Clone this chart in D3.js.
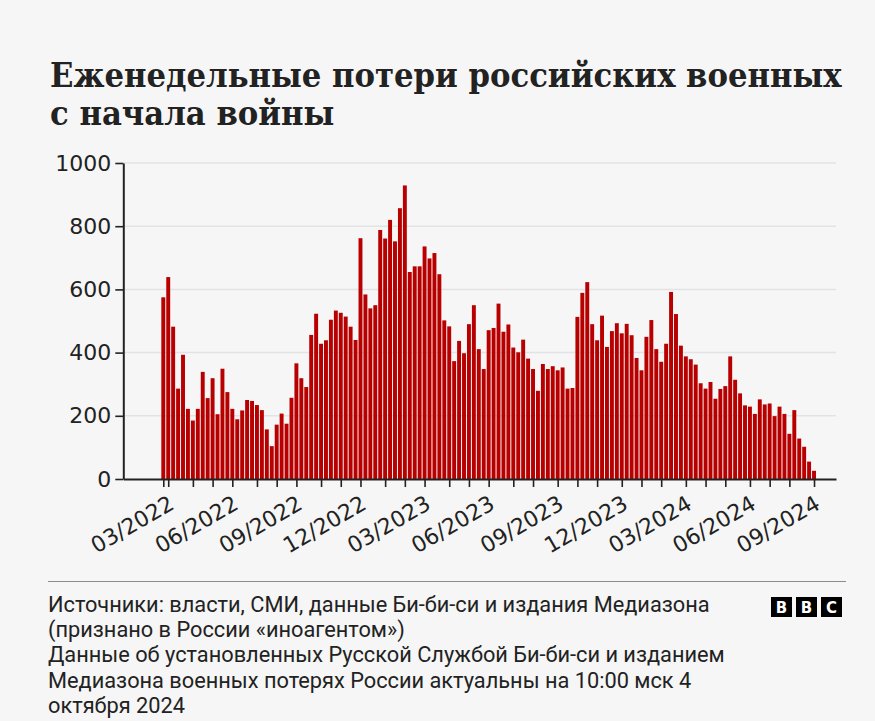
<!DOCTYPE html>
<html>
<head>
<meta charset="utf-8">
<script src="https://cdn.jsdelivr.net/npm/d3@7"></script>
<style>
  html, body { margin: 0; padding: 0; background: #f6f6f6; }
  svg { display: block; }
</style>
</head>
<body>
<svg id="chart" width="875" height="721"></svg>
<script>
// ---- data ----
const firstWeek = "2022-02-24"; // weeks start on Thursday
const weeklyLosses = [
  575, 639, 482, 286, 393, 222, 185, 222, 339, 256,
  319, 205, 349, 275, 222, 189, 217, 250, 247, 234,
  218, 157, 104, 172, 207, 175, 257, 366, 319, 291,
  456, 523, 428, 439, 504, 533, 526, 514, 482, 440,
  762, 584, 540, 550, 788, 761, 820, 752, 857, 929,
  655, 673, 673, 736, 698, 715, 648, 502, 483, 373,
  437, 398, 490, 550, 411, 348, 471, 478, 555, 466,
  489, 416, 401, 441, 381, 348, 279, 364, 348, 357,
  344, 353, 286, 288, 513, 589, 623, 490, 439, 517,
  418, 468, 493, 461, 491, 455, 383, 344, 450, 503,
  411, 371, 428, 592, 522, 422, 388, 379, 362, 303,
  286, 307, 254, 285, 294, 388, 314, 271, 233, 229,
  206, 252, 236, 239, 199, 229, 206, 143, 218, 128,
  102, 55, 26
];
const tickLabels = ["03/2022","06/2022","09/2022","12/2022","03/2023","06/2023",
                    "09/2023","12/2023","03/2024","06/2024","09/2024"];
const yTicks = [0, 200, 400, 600, 800, 1000];
const xDomain = ["2022-01-01", "2024-10-09"];
const titleLines = ["Еженедельные потери российских военных", "с начала войны"];
const sourceLines = [
  "Источники: власти, СМИ, данные Би-би-си и издания Медиазона",
  "(признано в России «иноагентом»)",
  "Данные об установленных Русской Службой Би-би-си и изданием",
  "Медиазона военных потерях России актуальны на 10:00 мск 4",
  "октября 2024"
];
const logoLetters = ["B", "B", "C"];

// ---- setup ----
const svg = d3.select("#chart");
const W = 875, H = 721;
svg.append("rect").attr("width", W).attr("height", H).attr("fill", "#f6f6f6");

const parse = d3.utcParse("%Y-%m-%d");
const start = parse(firstWeek);
const weeks = weeklyLosses.map((v, i) => ({ date: d3.utcDay.offset(start, 7 * i), value: v }));

const x = d3.scaleUtc().domain(xDomain.map(parse)).range([123.3, 836]);
const y = d3.scaleLinear().domain([0, 1000]).range([479, 163]);

const pitch = x(d3.utcDay.offset(start, 7)) - x(start);
const barW = pitch - 1;

// ---- title ----
const titleFont = "'DejaVu Serif Condensed', 'DejaVu Serif', serif";
const title = svg.append("g");
const t1 = title.append("text").text(titleLines[0])
  .attr("x", 50).attr("y", 87)
  .attr("font-family", titleFont).attr("font-stretch", "condensed")
  .attr("font-weight", "bold").attr("font-size", 34).attr("fill", "#222");
const fs = 34 * 792 / t1.node().getComputedTextLength();
t1.attr("font-size", fs);
title.append("text").text(titleLines[1])
  .attr("x", 50).attr("y", 125)
  .attr("font-family", titleFont).attr("font-stretch", "condensed")
  .attr("font-weight", "bold").attr("font-size", fs).attr("fill", "#222");

// ---- grid ----
svg.append("g").selectAll("line").data(yTicks.filter(d => d > 0)).join("line")
  .attr("x1", x.range()[0]).attr("x2", x.range()[1])
  .attr("y1", d => y(d)).attr("y2", d => y(d))
  .attr("stroke", "#e3e3e3").attr("stroke-width", 1.5);

// ---- bars ----
svg.append("g").selectAll("rect").data(weeks).join("rect")
  .attr("x", d => x(d.date))
  .attr("width", barW)
  .attr("y", d => y(d.value))
  .attr("height", d => y(0) - y(d.value))
  .attr("fill", "#b80000");

// ---- x axis ----
const firstOfMonth = [];
const seen = new Set();
weeks.forEach(w => {
  const k = d3.utcFormat("%Y-%m")(w.date);
  if (!seen.has(k)) { seen.add(k); firstOfMonth.push(w.date); }
});
const tickVals = firstOfMonth.map(d => x.invert(x(d) + barW / 2));
const fmt = d3.utcFormat("%m/%Y");
const xAxis = d3.axisBottom(x).tickValues(tickVals).tickSize(8).tickSizeOuter(0)
  .tickFormat(d => tickLabels.includes(fmt(d)) ? fmt(d) : "");
const gx = svg.append("g").attr("transform", `translate(0,${y(0)})`).call(xAxis);
gx.select(".domain").attr("stroke", "#222").attr("stroke-width", 2);
gx.selectAll(".tick line").attr("stroke", "#222").attr("stroke-width", 1.6);
gx.selectAll(".tick text")
  .attr("font-family", "'DejaVu Sans', sans-serif").attr("font-size", 22).attr("fill", "#222")
  .attr("text-anchor", "end").attr("y", 0).attr("dy", 0)
  .attr("transform", "translate(7,29) rotate(-30)");

// ---- y axis ----
const yAxis = d3.axisLeft(y).tickValues(yTicks).tickFormat(d3.format("d"))
  .tickSize(8).tickPadding(4).tickSizeOuter(0);
const gy = svg.append("g").attr("transform", `translate(${x.range()[0]},0)`).call(yAxis);
gy.select(".domain").attr("stroke", "#222").attr("stroke-width", 2);
gy.selectAll(".tick line").attr("stroke", "#222").attr("stroke-width", 1.6);
gy.selectAll(".tick text")
  .attr("font-family", "'DejaVu Sans', sans-serif").attr("font-size", 22).attr("fill", "#222");

// ---- footer ----
svg.append("line").attr("x1", 48).attr("x2", 846).attr("y1", 581.5).attr("y2", 581.5)
  .attr("stroke", "#8c8c8c").attr("stroke-width", 1);
const foot = svg.append("g");
const f0 = foot.append("text").text(sourceLines[0]).attr("x", 48).attr("y", 612)
  .attr("font-family", "Roboto, 'Liberation Sans', sans-serif").attr("font-size", 22);
const ffs = 22 * 662 / f0.node().getComputedTextLength();
f0.remove();
foot.selectAll("text").data(sourceLines).join("text")
  .text(d => d)
  .attr("x", 48).attr("y", (d, i) => 612 + i * 25.2)
  .attr("font-family", "Roboto, 'Liberation Sans', sans-serif")
  .attr("font-size", ffs).attr("fill", "#222");

// ---- BBC logo ----
const logo = svg.append("g");
logoLetters.forEach((l, i) => {
  const lx = 771 + i * 25;
  logo.append("rect").attr("x", lx).attr("y", 597).attr("width", 21).attr("height", 20).attr("fill", "#000");
  logo.append("text").text(l).attr("x", lx + 10.5).attr("y", 613)
    .attr("text-anchor", "middle").attr("font-family", "'DejaVu Sans', sans-serif")
    .attr("font-weight", "bold").attr("font-size", 15).attr("fill", "#fff");
});
</script>
</body>
</html>
